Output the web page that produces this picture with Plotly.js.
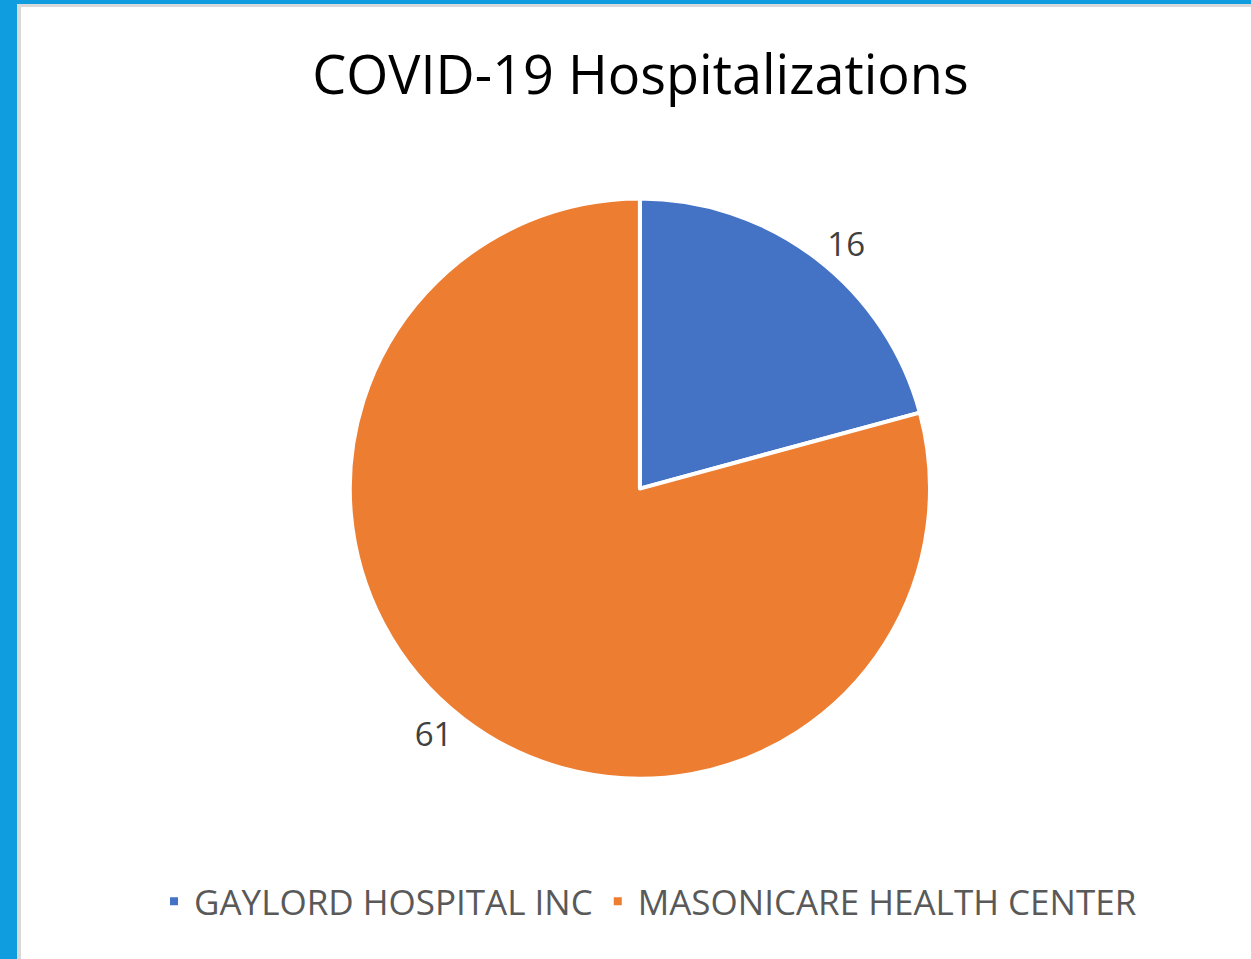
<!DOCTYPE html>
<html>
<head>
<meta charset="utf-8">
<script src="https://cdn.plot.ly/plotly-3.0.1.min.js"></script>
<style>
  html, body { margin: 0; padding: 0; background: #fff; }
  #chart { position: absolute; left: 0; top: 0; width: 1251px; height: 959px; }
  .edge { position: absolute; background: #0f9de0; }
  .line { position: absolute; background: #d9d9d9; }
</style>
</head>
<body>
<div id="chart"></div>
<div class="edge" style="left:0;top:0;width:17px;height:959px"></div>
<div class="edge" style="left:0;top:0;width:1251px;height:4px"></div>
<div class="line" style="left:17px;top:4px;width:4px;height:955px"></div>
<div class="line" style="left:17px;top:4px;width:1234px;height:3px"></div>
<script>
// Données du graphique
const hospitals = ['GAYLORD HOSPITAL INC', 'MASONICARE HEALTH CENTER'];
const hospitalizations = [16, 61];
const sliceColors = ['#4472c4', '#ed7d31'];

const tracePie = {
    type: 'pie',
    labels: hospitals,
    values: hospitalizations,
    sort: false,
    direction: 'clockwise',
    rotation: 0,
    textinfo: 'value',
    textposition: 'outside',
    outsidetextfont: { family: 'Open Sans, sans-serif', size: 33, color: '#404040' },
    marker: { colors: sliceColors, line: { color: '#ffffff', width: 4 } },
    domain: { x: [0.2, 0.823], y: [0.188, 0.793] },
    hoverinfo: 'label+value'
};

const layout = {
    width: 1251,
    height: 959,
    paper_bgcolor: '#ffffff',
    margin: { l: 0, r: 0, t: 0, b: 0 },
    title: {
        text: 'COVID-19 Hospitalizations',
        font: { family: 'Open Sans, sans-serif', size: 54, color: '#000000' },
        x: 0.512, xanchor: 'center',
        y: 0.922, yanchor: 'middle'
    },
    showlegend: true,
    legend: {
        orientation: 'h',
        x: 0.518, xanchor: 'center',
        y: 0.06, yanchor: 'middle',
        font: { family: 'Open Sans, sans-serif', size: 35, color: '#595959' },
        itemwidth: 30,
        tracegroupgap: 0
    }
};

Plotly.newPlot('chart', [tracePie], layout, { displayModeBar: false });
</script>
</body>
</html>
